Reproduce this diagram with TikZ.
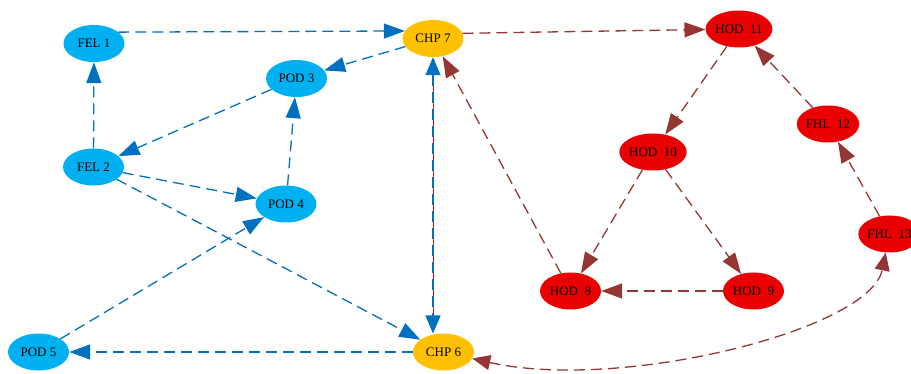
\documentclass[tikz,border=0pt]{standalone}
\usepackage{fontspec}
\setmainfont{Liberation Serif}
\usetikzlibrary{arrows.meta,shapes.geometric}

\definecolor{nodeblue}{RGB}{0,176,240}
\definecolor{nodeorange}{RGB}{255,192,0}
\definecolor{nodered}{RGB}{234,0,0}
\definecolor{edgeblue}{RGB}{0,112,192}
\definecolor{edgebrown}{RGB}{148,54,52}

\begin{document}
\begin{tikzpicture}
  [x=1pt,y=-1pt,
   every node/.style={ellipse,minimum width=61pt,minimum height=37pt,inner sep=0pt,font=\fontsize{13}{15}\selectfont},
   bluenode/.style={fill=nodeblue},
   orangenode/.style={fill=nodeorange},
   rednode/.style={fill=nodered},
   tip/.style={-{Triangle[length=21pt,width=15pt]}},
   bothtips/.style={{Triangle[length=18pt,width=15pt]}-{Triangle[length=18pt,width=15pt]}},
   blueedge/.style={draw=edgeblue,line width=1.3pt,dash pattern=on 11pt off 6pt,tip},
   brownedge/.style={draw=edgebrown,line width=1.3pt,dash pattern=on 11pt off 6pt,tip}]
  \useasboundingbox (0,0) rectangle (911,374);
  \clip (0,0) rectangle (911,374);

  \node[bluenode] (fel1) at (94,43.5)     {FEL 1};
  \node[bluenode] (fel2) at (93.5,167)    {FEL 2};
  \node[bluenode] (pod3) at (296.5,78.5)  {POD 3};
  \node[bluenode] (pod4) at (286,204)     {POD 4};
  \node[bluenode] (pod5) at (38.5,352)    {POD 5};
  \node[orangenode] (chp6) at (443.5,352) {CHP 6};
  \node[orangenode] (chp7) at (433,38.5)  {CHP 7};
  \node[rednode] (hod8) at (570.5,291)    {HOD\ \ 8};
  \node[rednode] (hod9) at (753.5,291)    {HOD\ \ 9};
  \node[rednode] (hod10) at (653,152)     {HOD\ \ 10};
  \node[rednode] (hod11) at (739,29)      {HOD\ \ 11};
  \node[rednode] (fhl12) at (828,124)     {FHL\ \ 12};
  \node[rednode] (fhl13) at (889.5,234)   {FHL\ \ 13};

  \draw[blueedge] (fel1.25) -- (chp7.165);
  \foreach \from/\to in {chp7/pod3,pod3/fel2,fel2/fel1,fel2/pod4,pod4/pod3,fel2/chp6,pod5/pod4,chp6/pod5}
    \draw[blueedge] (\from) -- (\to);

  \draw[brownedge] (chp7.10) -- (hod11);
  \foreach \from/\to in {hod11/hod10,hod10/hod8,hod10/hod9,hod9/hod8,hod8/chp7,fhl12/hod11,fhl13/fhl12}
    \draw[brownedge] (\from) -- (\to);

  % CHP 6 <-> CHP 7
  \coordinate (c6top) at (433,333.5);
  \draw[red,line width=1.3pt,shorten <=16pt,shorten >=16pt] ([xshift=0.6pt]chp7.south) -- ([xshift=0.6pt]c6top);
  \draw[blueedge,bothtips] (chp7.south) -- (c6top);

  % CHP 6 <-> FHL 13
  \draw[brownedge,bothtips] (chp6) .. controls (620,392) and (870,330) .. (fhl13);
\end{tikzpicture}
\end{document}
